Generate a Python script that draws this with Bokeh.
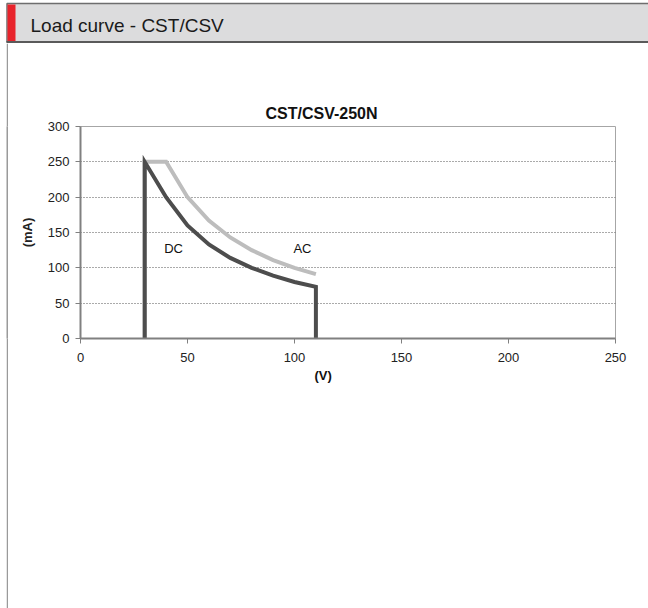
from bokeh.plotting import figure
from bokeh.models import Label, SingleIntervalTicker, Range1d, Title
from bokeh.layouts import column, row
from bokeh.embed import file_html
from bokeh.resources import INLINE
from bokeh.core.properties import value

# ---- data ----
dc_v = [30, 30, 40, 50, 60, 70, 80, 90, 100, 110, 110]
dc_ma = [0, 250, 200, 160, 133, 114, 100, 89, 80, 73, 0]
ac_v = [30, 30, 40, 50, 60, 70, 80, 90, 100, 110]
ac_ma = [0, 250, 250, 200, 167, 143, 125, 111, 100, 91]
chart_title = "CST/CSV-250N"
header_text = "Load curve - CST/CSV"
x_label = "(V)"
y_label = "(mA)"

FONT = "Liberation Sans"

# ---- page header (decoration) ----
hdr = figure(width=648, height=43, output_backend="svg", toolbar_location=None,
             x_range=Range1d(0, 648), y_range=Range1d(43, 0), min_border=0)
hdr.title = None
hdr.axis.visible = False
hdr.grid.visible = False
hdr.outline_line_color = None
hdr.background_fill_color = "white"
hdr.border_fill_color = "white"
hdr.quad(left=[6.5], right=[650], top=[3], bottom=[41.5], fill_color="#dcdcdd",
         line_color="#6e6e6e", line_width=1.5)
hdr.quad(left=[6], right=[650], top=[40.5], bottom=[42.5], fill_color="#5a5a5a", line_color=None)
hdr.quad(left=[7], right=[15], top=[4], bottom=[40.5], fill_color="#e8232b", line_color=None)
hdr.text(x=[30], y=[25], text=[header_text], text_align="left", text_baseline="alphabetic",
         text_font=value(FONT), text_font_size="19px", text_color="#1a1a1a")

# ---- left page border (decoration): a 2px grey strip ----
brd = figure(width=2, height=565, output_backend="svg", toolbar_location=None,
             x_range=Range1d(0, 1), y_range=Range1d(0, 1), min_border=0,
             margin=(0, 1, 0, 6))
brd.title = None
brd.axis.visible = False
brd.grid.visible = False
brd.outline_line_color = None
brd.background_fill_color = "#9a9a9a"
brd.border_fill_color = "#9a9a9a"

# ---- chart ----
p = figure(width=639, height=565, output_backend="svg", toolbar_location=None,
           x_range=Range1d(0, 250), y_range=Range1d(0, 300),
           min_border_left=71, min_border_right=33, min_border_top=83,
           min_border_bottom=270)
p.background_fill_color = "white"
p.border_fill_color = "white"
p.outline_line_color = "#a6a6a6"
p.outline_line_width = 1

for ax in (p.xaxis[0], p.yaxis[0]):
    ax.ticker = SingleIntervalTicker(interval=50, num_minor_ticks=0)
    ax.axis_line_color = "#808080"
    ax.axis_line_width = 2
    ax.major_tick_line_color = "#808080"
    ax.major_tick_line_width = 1
    ax.major_tick_out = 5
    ax.major_tick_in = 0
    ax.minor_tick_line_color = None
    ax.major_label_text_font = FONT
    ax.major_label_text_font_size = "13px"
    ax.major_label_text_color = "#222222"
p.xaxis.major_label_standoff = 9
p.yaxis.major_label_standoff = 6
p.yaxis.axis_label = y_label
p.yaxis.axis_label_text_font = FONT
p.yaxis.axis_label_text_font_style = "bold"
p.yaxis.axis_label_text_font_size = "13px"
p.yaxis.axis_label_text_color = "#222222"
p.yaxis.axis_label_standoff = 10

p.xgrid.grid_line_color = None
p.ygrid.grid_line_color = "#555555"
p.ygrid.grid_line_dash = "1 2"
p.ygrid.grid_line_width = 1

p.title.text = chart_title
p.title.text_font = FONT
p.title.text_font_style = "bold"
p.title.text_font_size = "16px"
p.title.text_color = "#111111"
p.title.align = "left"
p.title.offset = 185

# x-axis caption, offset like the reference
p.add_layout(Title(text=x_label, align="left", offset=234, text_font=FONT,
                   text_font_style="bold", text_font_size="13px", text_color="#111111",
                   standoff=2), "below")

p.line(ac_v, ac_ma, line_color="#bdbdbd", line_width=4, line_join="miter")
p.line(dc_v, dc_ma, line_color="#4d4d4d", line_width=4, line_join="miter")

p.add_layout(Label(x=43.5, y=127, text="DC", text_align="center", text_baseline="middle",
                   text_font=FONT, text_font_size="13px", text_color="#111111"))
p.add_layout(Label(x=103.7, y=127, text="AC", text_align="center", text_baseline="middle",
                   text_font=FONT, text_font_size="13px", text_color="#111111"))

layout = column(hdr, row(brd, p, spacing=0), spacing=0)
open("out.html", "w").write(file_html(layout, INLINE))
